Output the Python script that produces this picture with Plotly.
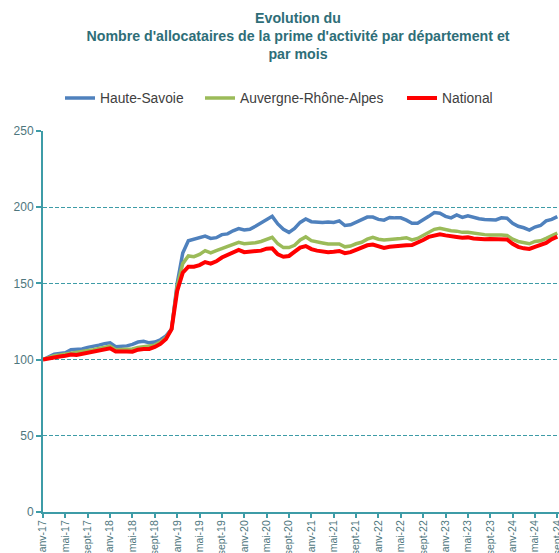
import plotly.graph_objects as go

month_abbr = ["janv", "févr", "mars", "avr", "mai", "juin", "juil", "août", "sept", "oct", "nov", "déc"]
years = ["17", "18", "19", "20", "21", "22", "23", "24"]
months = [f"{m}-{y}" for y in years for m in month_abbr][:93]  # janv-17 .. sept-24

haute_savoie = [
    100, 102, 103.5, 104, 104.5, 106.5, 106.5, 107, 108, 108.5, 109.5, 110.5,
    111, 108.5, 108.5, 109, 110, 111.5, 112, 111, 111.5, 113, 115.5, 120,
    150, 170, 178, 179, 180, 181, 179.5, 180, 182, 182.5, 184.5, 186,
    185, 185.5, 187.5, 189.5, 192, 194, 189, 185.5, 183.5, 186, 190, 192.3,
    190.5, 190, 190, 190.3, 190, 191, 188, 188.5, 190, 192, 193.5, 193.5,
    192, 191.5, 193.3, 193, 193, 191.5, 189.5, 189.5, 191.5, 194, 196.5, 196,
    194, 193, 194.9, 193.3, 194.4, 193.3, 192.4, 192, 191.8, 191.6, 193, 192.8,
    189.5, 187.5, 186.5, 185, 187, 188, 191, 192, 193.8,
]
auvergne_rhone_alpes = [
    100, 101.5, 102.5, 103, 103.5, 104.5, 104.5, 105, 106, 106.5, 107.3, 108.3,
    108.8, 106.5, 106.5, 106.8, 107, 108, 108.5, 108.5, 109.5, 111.5, 114.5, 120,
    148, 163, 168, 167.5, 169, 171.5, 170, 171.5, 173, 174, 175.5, 177,
    176, 176.2, 176.7, 177.5, 179, 180.2, 176, 173.5, 173.5, 175, 178.5, 180.5,
    178, 177, 176.5, 175.8, 175.7, 175.9, 174, 174.5, 176, 177, 179, 180.2,
    179, 178.5, 178.8, 178.9, 179.5, 180, 178.5, 179.5, 181.5, 184, 185.5, 186.2,
    185.3, 184.5, 184.3, 183.5, 183.5, 183, 182.2, 182, 181.8, 182, 181.8, 181.5,
    179, 177.5, 176.5, 176, 177.5, 178, 179.6, 181.5, 183,
]
national = [
    100, 100.8, 101.5, 102, 102.5, 103.3, 103, 103.8, 104.6, 105.2, 105.8, 106.6,
    107.4, 105.3, 105, 105.3, 105.2, 106.5, 107, 107, 108.3, 110.3, 113.5, 120,
    145, 157, 161, 161, 162, 164, 163, 164.5, 167, 168.5, 170.5, 172,
    170.5, 170.8, 171, 171.5, 172.8, 173, 169, 167.5, 168, 170.5, 173.5, 174.5,
    172.5, 171.5, 171, 170.5, 170.8, 171.3, 169.8, 170.5, 172, 173.5, 175, 175.5,
    174.5, 173.3, 174, 174.5, 174.5, 175, 175.2, 176.5, 178.5, 180.5, 181.5, 182.2,
    181.5, 180.7, 180.5, 180, 180.2, 179.5, 179, 179, 179.2, 179, 179, 178.8,
    176, 174, 173, 172.6, 174, 175, 176.5, 179, 180.7,
]

series_names = ["Haute-Savoie", "Auvergne-Rhône-Alpes", "National"]
series_values = [haute_savoie, auvergne_rhone_alpes, national]
series_colors = ["#4F81BD", "#9BBB59", "#FF0000"]
series_widths = [3.5, 3.5, 4]
legend_ids = ["legend", "legend2", "legend3"]

y_ticks = [0, 50, 100, 150, 200, 250]
x_tickvals = months[::4]

TEAL = "#3E9CA7"
LABEL = "#4E767D"
FONT = "Liberation Sans, Arial, sans-serif"

fig = go.Figure()
for name, vals, col, w, lg in zip(series_names, series_values, series_colors, series_widths, legend_ids):
    fig.add_trace(go.Scatter(
        x=months, y=vals, mode="lines", name=name,
        line=dict(color=col, width=w), legend=lg,
    ))

W, H = 559, 553
legend_common = dict(
    orientation="h", xref="container", yref="container",
    xanchor="left", yanchor="middle", y=1 - 98 / H,
    font=dict(family=FONT, size=13.8, color="#404040"),
    itemwidth=30, bgcolor="rgba(0,0,0,0)",
)
fig.update_layout(
    width=W, height=H,
    margin=dict(l=43, r=0, t=131, b=H - 512, autoexpand=False),
    paper_bgcolor="white", plot_bgcolor="white",
    showlegend=True,
    title=dict(
        text="Evolution du<br>Nombre d'allocataires de la prime d'activité par département et<br>par mois",
        x=298 / W, xanchor="center", xref="container",
        y=1 - 22.5 / H, yanchor="top", yref="container",
        font=dict(family=FONT, size=14.2, color="#2E6E78", weight="bold"),
    ),
    legend=dict(legend_common, x=(68 - 8) / W),
    legend2=dict(legend_common, x=(208 - 8) / W),
    legend3=dict(legend_common, x=(410 - 8) / W),
    xaxis=dict(
        type="category", range=[0, 92.3],
        tickmode="array", tickvals=x_tickvals, ticktext=x_tickvals,
        tickangle=-90, ticks="outside", ticklen=4, tickcolor=TEAL, tickwidth=1.5,
        ticklabelstandoff=-2,
        showline=True, linecolor=TEAL, linewidth=2,
        showgrid=False, zeroline=False, automargin=False,
        tickfont=dict(family=FONT, size=10.5, color=LABEL),
    ),
    yaxis=dict(
        range=[0, 250], tickvals=y_ticks,
        ticks="outside", ticklen=5, tickcolor=TEAL, tickwidth=1.5,
        showline=True, linecolor=TEAL, linewidth=2,
        showgrid=True, gridcolor=TEAL, griddash="4px,2px", gridwidth=1,
        zeroline=False, automargin=False,
        tickfont=dict(family=FONT, size=12, color=LABEL),
    ),
)

fig.write_html(
    "out.html",
    config={"displayModeBar": False},
    post_script="document.body.style.margin='0';document.body.style.overflow='hidden';",
)
